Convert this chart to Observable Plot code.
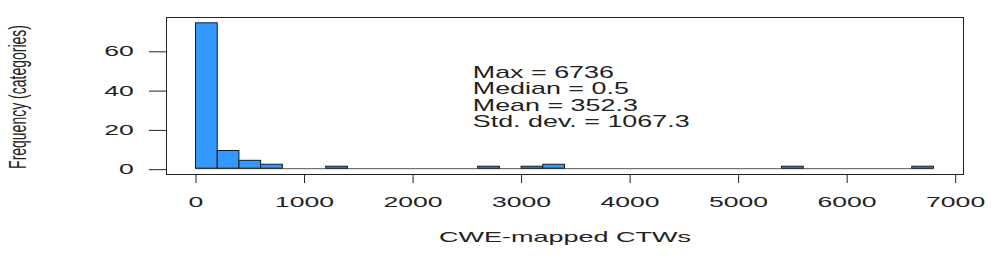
<!DOCTYPE html>
<html><head><meta charset="utf-8">
<script src="https://cdn.jsdelivr.net/npm/d3@7"></script>
<script src="https://cdn.jsdelivr.net/npm/@observablehq/plot@0.6"></script>
<style>
html,body{margin:0;padding:0;background:#fff;}
#chart svg{display:block;}
</style></head><body><div id="chart"></div>
<script>
// Bin edges of the histogram (width 200)
const binEdges = [0,200,400,600,800,1000,1200,1400,1600,1800,2000,2200,2400,2600,2800,3000,3200,3400,3600,3800,4000,4200,4400,4600,4800,5000,5200,5400,5600,5800,6000,6200,6400,6600,6800];
// Frequencies per bin
const counts = [74,9,4,2,0,0,1,0,0,0,0,0,0,1,0,1,2,0,0,0,0,0,0,0,0,0,0,1,0,0,0,0,0,1];
const xTicks = [0,1000,2000,3000,4000,5000,6000,7000];
const yTicks = [0,20,40,60];
const xTitle = "CWE-mapped CTWs";
const yTitle = "Frequency (categories)";
const statLabels = ["Max", "Median", "Mean", "Std. dev."];
const statValues = ["6736", "0.5", "352.3", "1067.3"];

const bins = counts.map((c, i) => ({x1: binEdges[i], x2: binEdges[i + 1], count: c}));
const statsText = statLabels.map((l, i) => `${l} = ${statValues[i]}`).join("\n");

const plot = Plot.plot({
  width: 997, height: 262,
  marginLeft: 166, marginRight: 34, marginTop: 17, marginBottom: 88,
  style: {fontFamily: "'Liberation Sans', Arial, Helvetica, sans-serif", fontSize: "14px", color: "#222", background: "#fff", overflow: "visible"},
  x: {domain: [-272, 7072]},
  y: {domain: [-2.96, 76.96]},
  marks: [
    Plot.ruleY([0], {x1: binEdges[0], x2: binEdges[binEdges.length - 1], stroke: "#555", strokeWidth: 1}),
    Plot.rectY(bins.filter(d => d.count > 0), {x1: "x1", x2: "x2", y1: 0, y2: "count", fill: "#3399ff", stroke: "#1a1a1a", strokeWidth: 1}),
    Plot.frame({stroke: "#222"}),
    Plot.axisX({ticks: xTicks, tickSize: 9, tickPadding: 14, tickFormat: "d", label: null, fontSize: 14}),
    Plot.axisY({ticks: yTicks, tickSize: 17, tickPadding: 15.5, tickFormat: "d", label: null, fontSize: 14, dy: 1}),
    Plot.text([xTitle], {frameAnchor: "bottom", textAnchor: "middle", lineAnchor: "top", dy: 58, fontSize: 14}),
    Plot.text([yTitle], {frameAnchor: "left", textAnchor: "middle", lineAnchor: "middle", rotate: -90, dx: -149, dy: 1, fontSize: 14}),
    Plot.text([statsText], {x: 2550, y: 52, textAnchor: "start", lineAnchor: "top", fontSize: 16, lineHeight: 1.02})
  ]
});
document.getElementById("chart").append(plot);

// Horizontal stretch of the text, as in the reference rendering
function stretchOf(t) {
  const g = t.closest("g[aria-label]");
  const lab = g ? g.getAttribute("aria-label") : "";
  const txt = t.textContent;
  if (lab === "x-axis tick label" || lab === "y-axis tick label") return 1.9;
  if (txt === xTitle) return 1.93;
  if (txt === yTitle) return 1.75;
  if (txt.startsWith(statLabels[0])) return 1.68;
  return 0;
}
plot.querySelectorAll("text").forEach(t => {
  const s = stretchOf(t);
  if (!s) return;
  const bb = t.getBBox();
  const parent = t.parentNode;
  const m = parent.getCTM().inverse().multiply(t.getCTM());
  const xs = [[bb.x, bb.y], [bb.x + bb.width, bb.y], [bb.x, bb.y + bb.height], [bb.x + bb.width, bb.y + bb.height]]
    .map(([x, y]) => m.a * x + m.c * y + m.e);
  const minX = Math.min(...xs), maxX = Math.max(...xs);
  const anchor = getComputedStyle(t).textAnchor;
  const rotated = Math.abs(m.b) > 0.5;
  const ox = rotated ? (minX + maxX) / 2 : anchor === "end" ? maxX : anchor === "middle" ? (minX + maxX) / 2 : minX;
  const w = document.createElementNS("http://www.w3.org/2000/svg", "g");
  w.setAttribute("transform", `translate(${ox},0) scale(${s},1) translate(${-ox},0)`);
  parent.insertBefore(w, t);
  w.appendChild(t);
});
</script>
</body></html>
